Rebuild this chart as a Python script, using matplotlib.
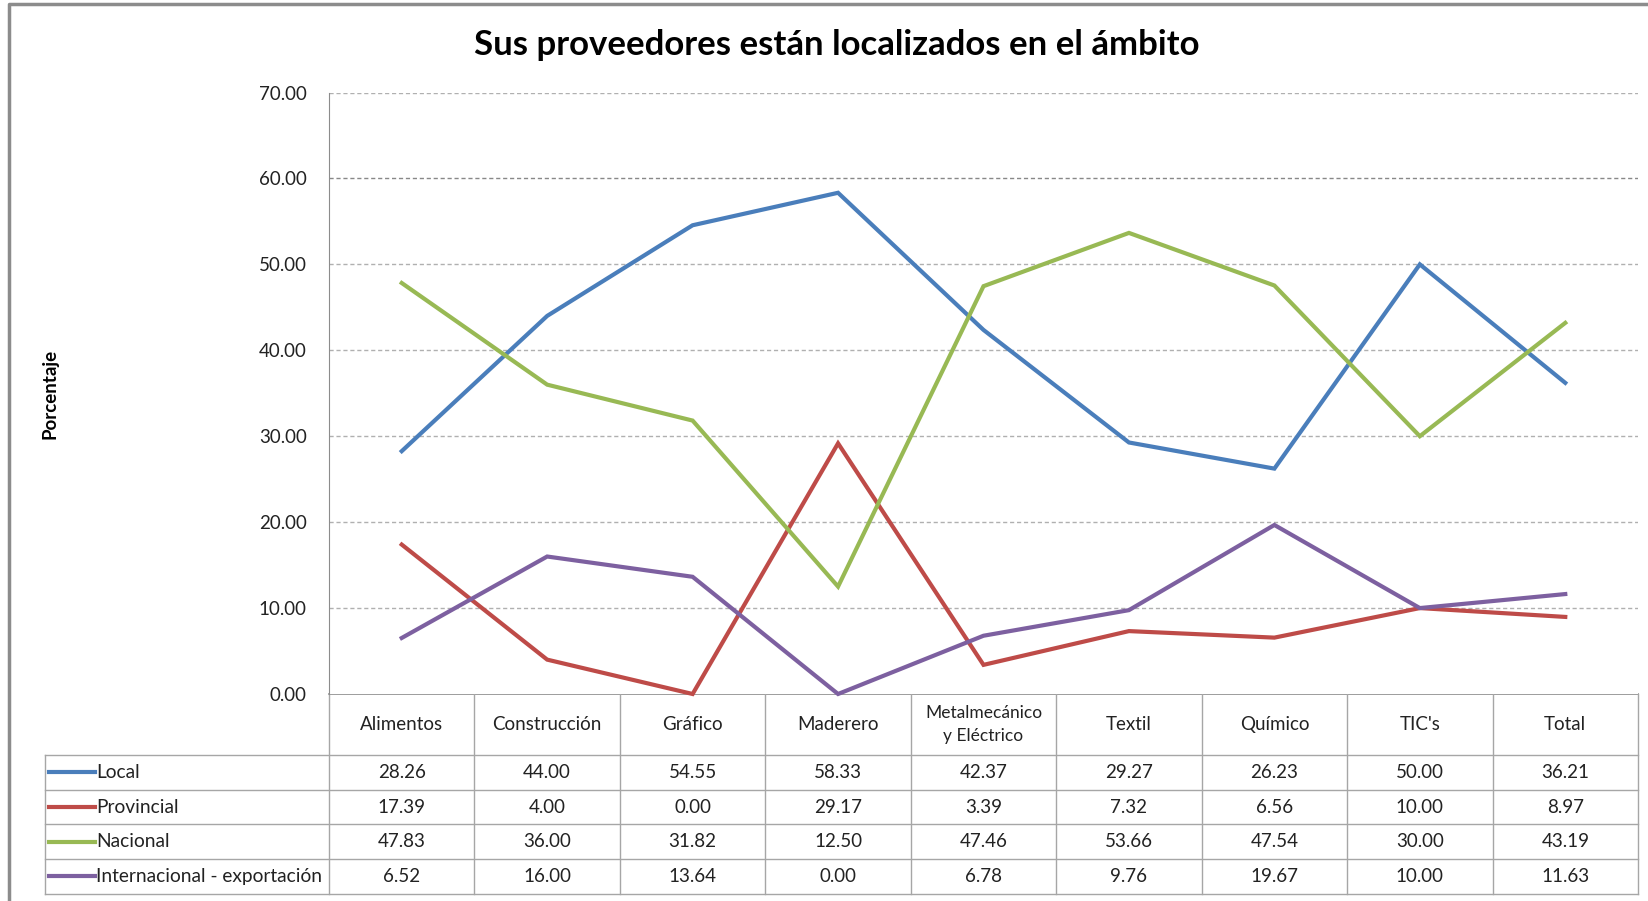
import numpy as np
import matplotlib.pyplot as plt

plt.rcParams['font.family'] = ['Lato', 'DejaVu Sans']

# Datos
categorias = ['Alimentos', 'Construcción', 'Gráfico', 'Maderero',
              'Metalmecánico\ny Eléctrico', 'Textil', 'Químico', "TIC's", 'Total']
series = ['Local', 'Provincial', 'Nacional', 'Internacional - exportación']
local = [28.26, 44.00, 54.55, 58.33, 42.37, 29.27, 26.23, 50.00, 36.21]
provincial = [17.39, 4.00, 0.00, 29.17, 3.39, 7.32, 6.56, 10.00, 8.97]
nacional = [47.83, 36.00, 31.82, 12.50, 47.46, 53.66, 47.54, 30.00, 43.19]
internacional = [6.52, 16.00, 13.64, 0.00, 6.78, 9.76, 19.67, 10.00, 11.63]
yticks = [0, 10, 20, 30, 40, 50, 60, 70]

valores = [local, provincial, nacional, internacional]
colores = ['#4A7EBB', '#BE4B48', '#98B954', '#7D60A0']

W, H = 1648, 901
fig = plt.figure(figsize=(W / 100, H / 100), dpi=100)

# fondo en pixeles para borde y tabla
bg = fig.add_axes([0, 0, 1, 1])
bg.set_xlim(0, W)
bg.set_ylim(H, 0)
bg.axis('off')
bg.plot([9, 9, W], [H, 4, 4], color='#8C8C8C', lw=2.5)

# area del grafico
x0, x1, ytop, ybot = 329, 1638, 92.5, 694
ax = fig.add_axes([x0 / W, (H - ybot) / H, (x1 - x0) / W, (ybot - ytop) / H])
ax.set_xlim(-0.5, 8.5)
ax.set_ylim(0, 70)
ax.set_yticks(yticks)
ax.set_yticklabels(['%.2f' % t for t in yticks], fontsize=13.5, color='#222222')
ax.tick_params(axis='y', length=0, pad=16)
ax.set_xticks([])
for s in ['top', 'right', 'bottom']:
    ax.spines[s].set_visible(False)
ax.spines['left'].set_color('#8C8C8C')
for t in yticks[1:]:
    c = '#888888' if t == 60 else '#B0B0B0'
    ax.axhline(t, color=c, lw=1, ls=(0, (3, 2)), zorder=0)

x = np.arange(len(categorias))
for v, c in zip(valores, colores):
    ax.plot(x, v, color=c, lw=3, solid_joinstyle='miter', clip_on=False)

fig.text(837 / W, 1 - 45 / H, 'Sus proveedores están localizados en el ámbito',
         ha='center', va='center', fontsize=25, fontweight='bold')
fig.text(50 / W, 1 - 394 / H, 'Porcentaje', rotation=90, ha='center', va='center',
         fontsize=13.5, fontweight='bold')

# tabla de datos
lc = '#A6A6A6'
colw = (x1 - x0) / len(categorias)
hdr_bot = 755
rowh = 34.7
tab_left = 45
bg.plot([x0, x1], [ybot, ybot], color='#8C8C8C', lw=1.2)
for i in range(len(categorias) + 1):
    xx = x0 + i * colw
    bg.plot([xx, xx], [ybot, hdr_bot + 4 * rowh], color=lc, lw=1)
bg.plot([tab_left, tab_left], [hdr_bot, hdr_bot + 4 * rowh], color=lc, lw=1)
for r in range(5):
    yy = hdr_bot + r * rowh
    bg.plot([tab_left, x1], [yy, yy], color=lc, lw=1)

for i, cat in enumerate(categorias):
    bg.text(x0 + (i + 0.5) * colw, (ybot + hdr_bot) / 2, cat, ha='center', va='center',
            fontsize=13.5 if '\n' not in cat else 12.5, color='#222222', linespacing=1.6)

for r, (nombre, v, c) in enumerate(zip(series, valores, colores)):
    yy = hdr_bot + (r + 0.5) * rowh
    bg.plot([49, 95], [yy, yy], color=c, lw=3)
    bg.text(96, yy, nombre, ha='left', va='center', fontsize=13.8, color='#222222')
    for i, val in enumerate(v):
        bg.text(x0 + (i + 0.5) * colw, yy, '%.2f' % val, ha='center', va='center',
                fontsize=13.5, color='#222222')

fig.savefig('out.png', dpi=100)
